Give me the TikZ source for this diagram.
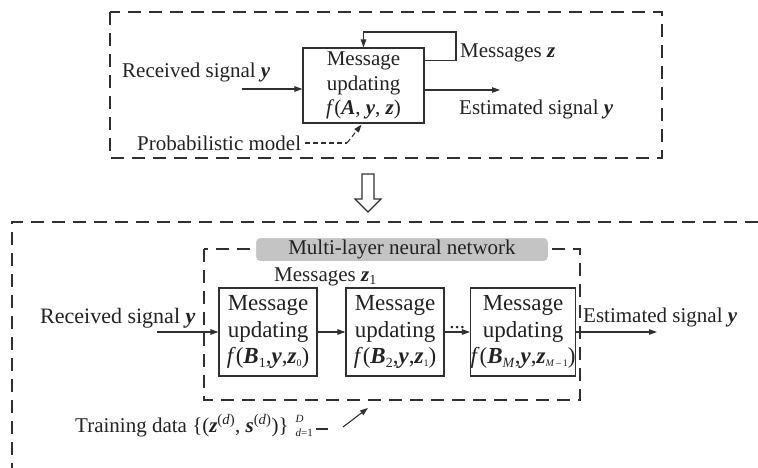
\documentclass[tikz,border=0pt]{standalone}
\usepackage{fontspec}
\usepackage{graphicx}
\setmainfont{Liberation Serif}
\usetikzlibrary{arrows.meta}

% bold italic vector symbols and small indices
\newcommand\bi[1]{\textbf{\textit{#1}}}
\newcommand\lowidx[1]{\raisebox{-0.35ex}{\fontsize{14}{14}\selectfont #1}}
\newcommand\tinyidx[1]{\raisebox{-0.25ex}{\fontsize{10}{10}\selectfont #1}}

\definecolor{ink}{HTML}{222222}
\definecolor{edge}{HTML}{303030}
\definecolor{tagfill}{HTML}{C4C4C4}

\begin{document}
\begin{tikzpicture}[x=1pt,y=-1pt,
  every node/.style={text=ink},
  lbl/.style={font=\fontsize{21}{24}\selectfont, inner sep=0pt},
  lblb/.style={font=\fontsize{22}{25}\selectfont, inner sep=0pt},
  frame/.style={draw=edge, line width=1.2pt, dash pattern=on 13pt off 8pt},
  topbox/.style={draw=edge, line width=1.2pt, align=center, inner sep=0pt,
    minimum width=121pt, minimum height=75pt, font=\fontsize{21}{24.5}\selectfont},
  layerbox/.style={draw=edge, line width=1.2pt, align=center, inner sep=0pt,
    minimum height=88pt, font=\fontsize{23}{26.5}\selectfont},
  conn/.style={draw=edge, line width=1.1pt, -{Triangle[length=8pt,width=5.5pt]}},
  plain/.style={draw=edge, line width=1.1pt},
]
\useasboundingbox (0,0) rectangle (758,468);

% ---------- upper part: iterative message passing ----------
\draw[frame] (110,12) rectangle (662,158);

\node[topbox] (upd) at (363.5,85.5) {Message\\updating\\\textit{f}(\bi{A}, \bi{y}, \bi{z})};

% feedback loop of the messages
\coordinate (loopR) at (456,32);
\draw[conn] ([yshift=-13pt]upd.north east) -| (loopR) -| (upd.north);
\node[lbl, anchor=base west] (msgz) at (460,58) {Messages \bi{z}};

% input and output
\coordinate (inA) at (242,89);
\draw[conn] (inA) -- (inA -| upd.west);
\node[lbl, anchor=base west] (recvA) at (122,78) {Received signal \bi{y}};

\coordinate (outA) at (500,90);
\draw[conn] (outA -| upd.east) -- (outA);
\node[lbl, anchor=base west] (estA) at (459,115) {Estimated signal \bi{y}};

% probabilistic model feeding the update
\node[lbl, anchor=base west] (prob) at (137,151) {Probabilistic model};
\coordinate (probK) at (347,143);
\draw[plain, dash pattern=on 5pt off 3pt] ([xshift=4pt]prob.east |- probK) -- (probK);
\draw[conn, dash pattern=on 5pt off 3pt] (probK) -- ([xshift=-2pt,yshift=-1pt]upd.south);

% ---------- transition arrow ----------
\draw[draw=edge, line width=1.1pt, fill=white]
  (362,174) -- (374,174) -- (374,199) -- (381,199) -- (368,212)
  -- (355,199) -- (362,199) -- cycle;

% ---------- lower part: unfolded network ----------
\draw[frame] (758,222) -- (12,222) -- (12,468);

\draw[frame] (204,249) rectangle (580,400);
\node[fill=tagfill, draw=white, line width=2pt, rounded corners=5pt,
      minimum width=294pt, minimum height=25pt, inner sep=0pt,
      font=\fontsize{21}{24}\selectfont] (tag) at (402,249.5) {Multi-layer neural network};

\node[lbl, anchor=base west] (msgz1) at (274,281) {Messages \bi{z}\lowidx{1}};

\node[layerbox, minimum width=98pt] (L1) at (268,332)
  {Message\\updating\\\textit{f}(\bi{B}\lowidx{1},\bi{y},\bi{z}\tinyidx{0})};
\node[layerbox, minimum width=98pt] (L2) at (395,332)
  {Message\\updating\\\textit{f}(\bi{B}\lowidx{2},\bi{y},\bi{z}\tinyidx{1})};
\node[layerbox, minimum width=104pt] (L3) at (523,332)
  {Message\\updating\\\textit{f}(\bi{B}\lowidx{\textit{M}},\bi{y},\bi{z}\tinyidx{\textit{M}\,--\,1})};

\coordinate (inB) at (157,332);
\draw[conn] (inB) -- (L1.west);
\draw[conn] (L1.east) -- (L2.west);
\draw[conn] (L2.east) -- node[lbl, above=3pt] (dots) {...} (L3.west);
\coordinate (outB) at (657,332);
\draw[conn] (L3.east) -- (outB);

\node[lblb, anchor=base west] (recvB) at (40,323) {Received signal \bi{y}};
\node[lbl, anchor=base west] (estB) at (583,322) {Estimated signal \bi{y}};

% training data
\node[lbl, anchor=base west] (train) at (75,432)
  {Training data \{(\bi{z}\textsuperscript{(\textit{d})}, \bi{s}\textsuperscript{(\textit{d})})\}\,\,%
   \rlap{\raisebox{1.0ex}{\fontsize{11}{11}\selectfont\textit{D}}}%
   \raisebox{-0.5ex}{\fontsize{11}{11}\selectfont\textit{d}=1}};
\coordinate (trainEnd) at (328,429);
\draw[plain] ([xshift=3pt]train.east |- trainEnd) -- (trainEnd);
\coordinate (trainA) at (343,427);
\coordinate (trainB) at (368,408);
\draw[conn] (trainA) -- (trainB);
\end{tikzpicture}
\end{document}
